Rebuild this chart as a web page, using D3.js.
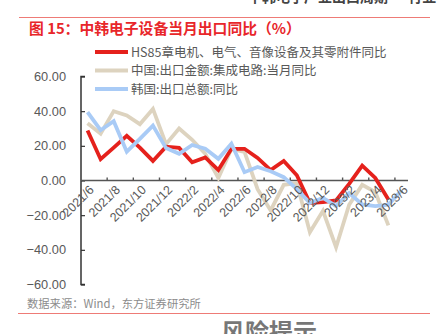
<!DOCTYPE html>
<html><head><meta charset="utf-8">
<script src="https://cdn.jsdelivr.net/npm/d3@7"></script>
<style>
html,body{margin:0;padding:0;background:#fff;}
svg{display:block;}
</style></head>
<body>
<svg id="c" width="445" height="334"></svg>
<script>
const categories = ["2021/6","2021/7","2021/8","2021/9","2021/10","2021/11","2021/12",
 "2022/1","2022/2","2022/3","2022/4","2022/5","2022/6","2022/7","2022/8","2022/9","2022/10","2022/11","2022/12",
 "2023/1","2023/2","2023/3","2023/4","2023/5","2023/6"];
const seriesNames = ["HS85章电机、电气、音像设备及其零附件同比","中国:出口金额:集成电路:当月同比","韩国:出口总额:同比"];
const hs85 = [28.8,12.3,19,25.8,19,11.3,19.5,18.8,10.5,13.3,6,18.3,18.3,13,6,11.3,3,-13,-12.5,-11.5,-2,8.6,1.5,-11,null];
const chinaIC = [33,27,40,37.5,32.5,41.3,21,30,23.5,15.4,1.5,18.3,16.5,-5,-17.3,-2.5,-1.5,-29.8,-17.5,-38.5,-14,-2.5,-6.7,-25.9,null];
const korea = [39.4,29,34.2,16.6,24,31.7,18.7,15.4,20.5,18.3,12.5,21.2,4.8,7.8,5.3,1.9,-5,-13,-10,-14.8,-7.2,-13.8,-14.8,-14,-5.8];
const yTicks = [60,40,20,0,-20,-40,-60];
const xLabels = ["2021/6","2021/8","2021/10","2021/12","2022/2","2022/4","2022/6","2022/8","2022/10","2022/12","2023/2","2023/4","2023/6"];
const titleText = "图 15：中韩电子设备当月出口同比（%）";
const sourceText = "数据来源：Wind，东方证券研究所";
const headerText = "中韩电子产业出口周期 · 行业";
const footerText = "风险提示";

const colors = ["#e5211c","#ddd3bf","#a9cbf6"];
const cjk = "'Noto Sans CJK SC','Liberation Sans',sans-serif";
const lat = "'Liberation Sans','Noto Sans CJK SC',sans-serif";

const svg = d3.select("#c");

// header (cut off at top)
svg.append("text").attr("x",248).attr("y",1.5).attr("font-family",cjk).attr("font-size",14)
  .attr("font-weight","bold").attr("fill","#444").text(headerText);
svg.append("line").attr("x1",19).attr("x2",430).attr("y1",17.5).attr("y2",17.5)
  .attr("stroke","#ee7b76").attr("stroke-width",1);
svg.append("text").attr("x",29).attr("y",34).attr("font-family",cjk).attr("font-size",14.8)
  .attr("font-weight","bold").attr("fill","#e8262a").text(titleText);

const x = d3.scaleBand().domain(categories).range([81,408]).padding(0);
const bw = x.bandwidth();
const cx = c => x(c) + bw/2;
const y = d3.scaleLinear().domain([-60,60]).range([284.5,76.5]);

// y axis
const yAxis = d3.axisRight(y).tickValues(yTicks).tickSize(4).tickFormat("");
const gy = svg.append("g").attr("transform","translate(81,0)").call(yAxis);
gy.select(".domain").attr("stroke","#333").attr("stroke-width",1.5).attr("d","M4,76.5H0V284.5H4");
gy.selectAll(".tick line").attr("stroke","#333").attr("stroke-width",1.2);
svg.append("g").selectAll("text").data(yTicks).join("text")
  .attr("x",66).attr("y",d=>y(d)).attr("dy","0.35em").attr("text-anchor","end")
  .attr("font-family",lat).attr("font-size",12.8).attr("fill","#595959")
  .text(d=>d3.format(".2f")(d));

// x axis (at zero)
const edgeCats = categories.filter((c,i)=>i%2===0 && i>0);
const xAxis = d3.axisTop(x).tickValues(edgeCats).tickSize(3).tickFormat("");
const gx = svg.append("g").attr("transform",`translate(0,${y(0)})`).call(xAxis);
gx.select(".domain").attr("stroke","#555").attr("stroke-width",1.6).attr("d","M81,0H408");
gx.selectAll(".tick").attr("transform",d=>`translate(${x(d)},0)`);
gx.selectAll(".tick line").attr("stroke","#555").attr("stroke-width",1.4);

// lines
const line = d3.line().defined(d=>d.v!==null).x(d=>cx(d.c)).y(d=>y(d.v));
const data = [chinaIC, hs85, korea];
const cols = [colors[1], colors[0], colors[2]];
data.forEach((arr,k)=>{
  svg.append("path").datum(arr.map((v,i)=>({c:categories[i],v})))
    .attr("fill","none").attr("stroke",cols[k]).attr("stroke-width",3.8)
    .attr("stroke-linejoin","miter").attr("d",line);
});

// x labels
svg.append("g").selectAll("text").data(xLabels).join("text")
  .attr("transform",d=>`translate(${cx(d)+4},${y(0)+7}) rotate(-45)`)
  .attr("text-anchor","end").attr("dy","0.35em")
  .attr("font-family",lat).attr("font-size",12.5).attr("fill","#595959").text(d=>d);

// legend
const lg = svg.append("g");
seriesNames.forEach((n,i)=>{
  const yy = 52 + i*18.5;
  lg.append("line").attr("x1",95).attr("x2",128).attr("y1",yy).attr("y2",yy)
    .attr("stroke",colors[i]).attr("stroke-width",3.8);
  lg.append("text").attr("x",131).attr("y",yy).attr("dy","0.36em")
    .attr("font-family",cjk).attr("font-size",12.5).attr("fill","#595959").text(n);
});

// source + footer
svg.append("text").attr("x",27).attr("y",308).attr("font-family",cjk).attr("font-size",11.3)
  .attr("fill","#8c8c8c").text(sourceText);
svg.append("line").attr("x1",18).attr("x2",430).attr("y1",313.5).attr("y2",313.5)
  .attr("stroke","#ee7b76").attr("stroke-width",1);
svg.append("text").attr("x",221).attr("y",341).attr("font-family",cjk).attr("font-size",24)
  .attr("font-weight","bold").attr("fill","#777").text(footerText);
</script>
</body></html>
